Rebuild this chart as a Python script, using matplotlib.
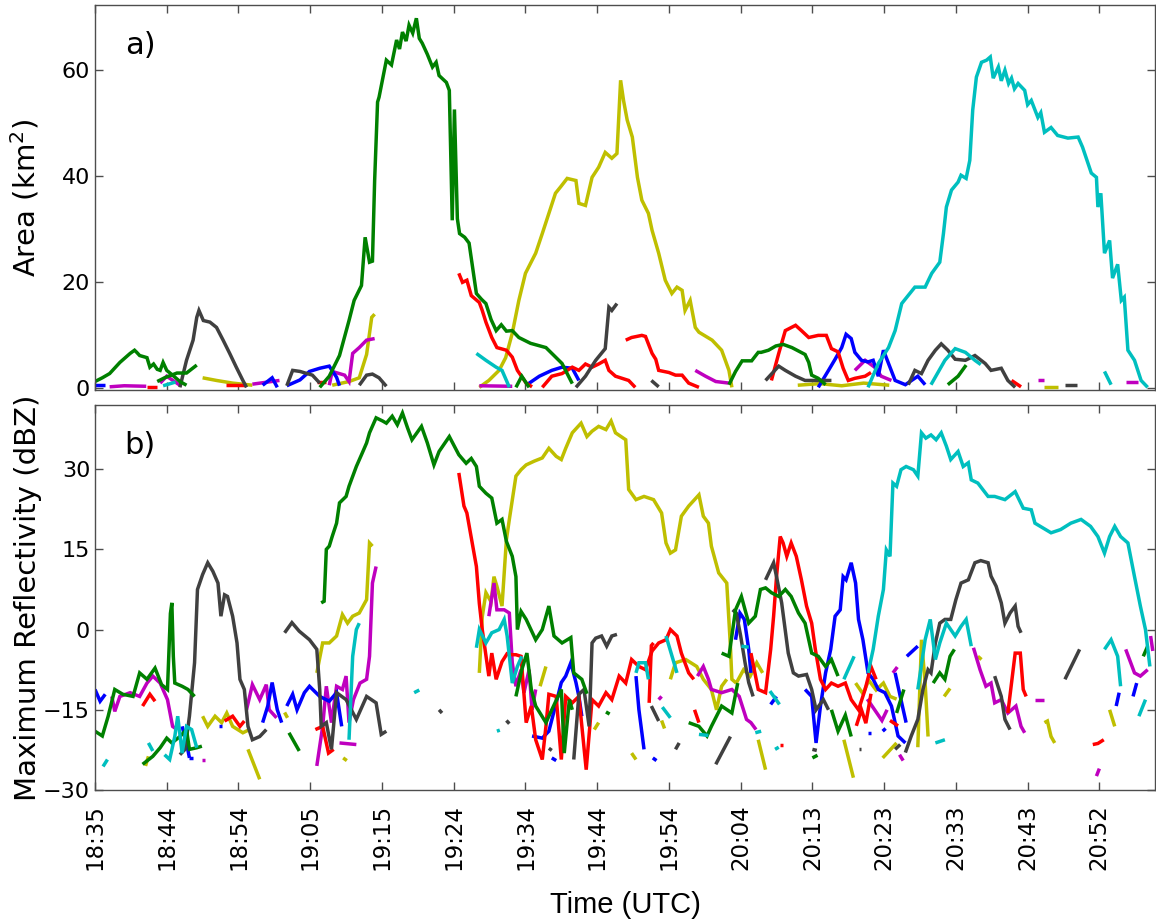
import numpy as np
import matplotlib
matplotlib.use("Agg")
import matplotlib.pyplot as plt

# ---------------------------------------------------------------
# Data: time in minutes after 18:35 UTC; each track = list of (t, value)
# ---------------------------------------------------------------
tick_step = 9.8
tick_labels = ["18:35", "18:44", "18:54", "19:05", "19:15", "19:24", "19:34", "19:44",
               "19:54", "20:04", "20:13", "20:23", "20:33", "20:43", "20:52"]

# ---------- panel a: area (km^2) ----------
a_green = [
    [(0, 1.3), (1.0, 2.0), (2.0, 2.8), (3.4, 4.9), (4.8, 6.6), (5.4, 7.2), (5.7, 6.8), (6.1, 6.2), (7.1, 5.8),
     (7.5, 4.0), (8.0, 4.6), (8.5, 3.6), (8.9, 3.4), (9.3, 4.9), (9.8, 3.4), (10.6, 2.5), (11.6, 1.3), (12.5, 0.6)],
    [(8.5, 1.3), (9.5, 2.0), (11.2, 2.9), (12.5, 2.9), (13.9, 4.4)],
    [(30.7, 0.2), (32.0, 2.3), (33.4, 6.2), (34.7, 12.8), (35.4, 16.6), (36.4, 19.4), (36.9, 28.5), (37.5, 23.8),
     (37.9, 24.0), (38.2, 39.2), (38.6, 54.0), (38.8, 54.9), (39.8, 61.9), (40.5, 61.0), (41.2, 65.7), (41.6, 64.0),
     (42.0, 67.2), (42.5, 65.5), (42.9, 68.5), (43.4, 67.0), (43.9, 69.8), (44.3, 66.0), (44.7, 65.1), (45.4, 63.0),
     (46.1, 60.6), (46.6, 61.5), (47.0, 59.0), (48.0, 57.7), (48.4, 56.2), (48.8, 31.7), (49.1, 52.6), (49.5, 32.0),
     (49.8, 29.2), (50.5, 28.5), (51.1, 27.4), (52.1, 17.9), (52.8, 16.8), (53.4, 16.0), (54.1, 13.0), (54.8, 10.9),
     (55.5, 12.0), (56.2, 10.8), (57.0, 10.9), (57.9, 9.6), (59.5, 8.5), (61.6, 7.7), (63.8, 4.7), (65.2, 0.9)],
    [(57.5, 0.2), (58.3, 2.3), (59.3, 0.2)],
    [(86.6, 0.7), (87.5, 3.2), (88.4, 5.2), (89.7, 5.2), (90.6, 6.8), (91.0, 6.8), (92.0, 7.2), (93.0, 8.0),
     (94.0, 8.3), (95.2, 7.7), (97.0, 6.4), (97.5, 4.9), (97.9, 2.5), (98.8, 1.9), (99.8, 0.7)],
    [(116.5, 0.7), (117.9, 2.3), (119.0, 4.4)],
]
a_yellow = [
    [(14.7, 2.0), (16.6, 1.5), (18.8, 1.0), (21.5, 0.6)],
    [(32.4, 0.6), (34.7, 1.3), (36.1, 2.0), (37.1, 6.4), (37.8, 13.4), (38.2, 14.0)],
    [(52.5, 0.2), (53.8, 1.5), (55.2, 3.4), (56.1, 5.8), (57.0, 10.4), (57.9, 16.6), (58.8, 21.7), (60.2, 25.5),
     (61.1, 29.2), (62.0, 33.0), (62.9, 36.8), (63.6, 38.0), (64.5, 39.6), (65.7, 39.2), (66.1, 34.9), (67.0, 34.5),
     (67.9, 39.8), (68.8, 41.7), (69.7, 44.5), (70.6, 43.4), (71.3, 44.3), (71.8, 58.1), (72.2, 54.3), (72.7, 50.6),
     (73.4, 47.4), (74.1, 39.8), (74.7, 35.5), (75.6, 33.0), (76.1, 29.8), (77.0, 25.5), (77.9, 20.4), (78.8, 17.9),
     (79.5, 19.1), (80.2, 18.5), (80.6, 14.7), (81.3, 16.6), (82.0, 11.5), (82.5, 10.6), (84.3, 9.1), (85.6, 7.2),
     (86.6, 3.4), (87.0, 0.2)],
    [(96.0, 0.6), (99.0, 0.9), (102.0, 0.5), (105.0, 1.0), (108.5, 0.6)],
    [(129.7, 0.3), (131.6, 0.3)],
]
a_gray = [
    [(11.6, 0.2), (12.5, 5.3), (13.4, 9.1), (13.9, 13.4), (14.2, 14.7), (14.8, 12.8), (15.7, 12.5), (16.6, 11.5),
     (17.5, 9.1), (18.4, 6.6), (19.3, 4.0), (20.2, 1.5), (20.7, 0.2)],
    [(26.2, 0.5), (27.0, 3.4), (28.0, 3.2), (29.7, 2.5), (30.7, 1.0)],
    [(36.1, 0.6), (37.1, 2.5), (37.9, 2.7), (38.8, 2.0), (39.8, 0.4)],
    [(65.7, 0.2), (67.0, 2.3), (68.4, 5.3), (69.7, 7.5), (70.2, 15.3), (70.6, 14.7), (71.3, 16.0)],
    [(76.0, 1.5), (77.0, 0.3)],
    [(91.6, 1.5), (93.4, 4.2), (94.3, 3.4), (95.7, 2.3), (97.0, 1.5), (98.8, 1.5), (100.6, 1.5)],
    [(111.1, 0.7), (112.0, 3.4), (112.9, 2.8), (113.8, 5.3), (114.8, 7.2), (115.6, 8.4), (116.5, 7.2), (117.5, 5.5),
     (118.9, 5.3), (120.2, 6.2), (121.6, 4.7), (122.4, 3.4), (123.8, 3.8), (124.7, 1.5), (125.7, 0.2)],
    [(132.5, 0.7), (134.2, 0.7)],
]
a_red = [
    [(7.1, 0.3), (8.5, 0.3)],
    [(17.9, 0.6), (20.6, 0.6)],
    [(30.3, 1.3), (31.6, 1.3)],
    [(49.7, 21.7), (50.2, 20.0), (50.8, 20.4), (51.4, 17.5), (52.5, 16.2), (52.9, 14.7), (53.4, 12.5), (54.2, 9.6),
     (54.9, 7.7), (56.2, 7.2), (57.0, 5.9), (57.7, 3.4), (58.9, 1.0), (59.7, 0.3)],
    [(61.1, 0.2), (62.4, 2.3), (63.8, 2.8), (65.2, 4.0), (66.1, 3.4), (67.0, 4.6), (67.9, 4.0), (68.8, 4.6),
     (69.7, 5.3), (70.2, 3.4), (71.1, 2.3), (72.9, 1.5), (73.8, 0.2)],
    [(72.5, 9.1), (73.3, 9.6), (74.7, 10.0), (75.2, 9.8), (76.1, 6.6), (76.6, 5.5), (77.0, 3.4), (78.4, 3.0),
     (79.3, 2.5), (80.2, 2.5), (81.1, 1.0), (82.5, 0.2)],
    [(92.4, 1.5), (93.4, 6.6), (94.3, 10.9), (95.7, 11.9), (96.5, 10.9), (97.5, 9.6), (98.8, 10.0), (99.9, 10.0),
     (100.6, 7.5), (101.5, 6.9), (102.2, 3.8), (102.9, 1.5), (103.8, 1.9), (105.2, 2.3), (106.0, 3.0)],
    [(125.2, 1.5), (126.5, 0.3)],
]
a_blue = [
    [(0, 0.7), (1.4, 0.7)],
    [(22.9, 0.6), (24.2, 2.0), (24.9, 0.2)],
    [(26.2, 0.5), (28.0, 1.6), (29.3, 3.2), (30.7, 3.8), (32.0, 4.2), (33.0, 2.1), (33.4, 0.5)],
    [(58.9, 0.6), (60.7, 2.3), (62.4, 3.4), (63.8, 4.0), (65.2, 3.8), (66.1, 1.5)],
    [(98.8, 0.2), (100.2, 3.4), (101.1, 5.5), (102.0, 7.7), (102.6, 10.2), (103.3, 9.4), (103.8, 6.8),
     (104.7, 5.3), (105.6, 5.0), (106.3, 5.3), (107.0, 2.3), (107.7, 7.2), (108.4, 4.7), (109.3, 1.5),
     (110.7, 0.7), (112.4, 2.3), (113.4, 0.7)],
]
a_cyan = [
    [(9.3, 0.5), (11.0, 1.2)],
    [(52.1, 6.6), (53.4, 5.3), (54.8, 4.0), (55.6, 3.4), (56.2, 1.5), (56.6, 0.2)],
    [(105.6, 0.2), (107.0, 4.7), (108.4, 7.7), (109.3, 10.9), (110.2, 16.0), (112.0, 19.1), (113.4, 19.1),
     (114.3, 21.7), (115.4, 23.8), (115.9, 29.2), (116.3, 34.2), (117.0, 37.4), (117.9, 38.9), (118.3, 40.2),
     (119.0, 39.6), (119.5, 43.0), (119.9, 52.5), (120.4, 58.7), (121.1, 61.5), (121.8, 61.9), (122.3, 62.5),
     (122.7, 58.5), (123.4, 60.6), (123.8, 58.0), (124.3, 60.0), (124.8, 57.5), (125.2, 58.5), (125.6, 56.5),
     (126.1, 57.5), (127.0, 56.2), (127.4, 53.5), (127.9, 54.3), (128.8, 51.1), (129.2, 52.0), (129.7, 48.3),
     (130.6, 49.2), (131.5, 47.7), (132.9, 47.2), (134.3, 47.4), (134.9, 45.5), (136.1, 40.6), (136.8, 39.8),
     (137.0, 34.2), (137.4, 36.8), (137.9, 25.5), (138.6, 27.9), (139.0, 20.8), (139.7, 23.4), (140.2, 16.6),
     (140.6, 17.2), (141.1, 7.2), (142.0, 5.3), (142.9, 1.5), (143.8, 0.2)],
    [(114.2, 0.7), (116.1, 5.3), (117.5, 7.5), (118.9, 6.8), (120.2, 5.3), (121.0, 4.5)],
    [(137.9, 3.2), (138.8, 0.7)],
]
a_magenta = [
    [(2.0, 0.3), (4.0, 0.5), (7.0, 0.4)],
    [(8.9, 1.0), (9.8, 2.3), (11.6, 0.6)],
    [(21.5, 0.8), (25.2, 1.5)],
    [(32.0, 0.6), (32.4, 3.2), (34.1, 2.5), (34.7, 1.3), (35.2, 6.6), (36.1, 7.7), (37.1, 9.1), (38.2, 9.4)],
    [(52.5, 0.5), (57.0, 0.4)],
    [(82.0, 3.4), (83.4, 2.3), (84.8, 1.3), (86.6, 1.0)],
    [(103.8, 3.4), (105.2, 5.3), (106.5, 4.0), (107.4, 2.3), (108.8, 1.5)],
    [(128.8, 1.5), (129.7, 1.5)],
    [(140.8, 1.3), (142.5, 1.3)],
]

# ---------- panel b: maximum reflectivity (dBZ) ----------
b_green = [
    [(0, -19.0), (1.0, -19.9), (1.8, -16.2), (2.7, -11.2), (3.8, -12.1), (5.2, -12.5), (6.1, -8.1), (7.1, -9.3),
     (8.2, -7.2), (9.1, -10.3), (9.9, -11.2), (10.3, 3.0), (10.5, 5.0), (10.7, -5.0), (10.9, -10.0), (11.9, -10.6),
     (12.7, -11.2), (13.6, -12.5)],
    [(6.5, -25.2), (7.9, -23.7), (8.9, -22.1), (9.8, -20.3), (10.5, -21.2), (11.6, -20.0), (12.5, -18.7),
     (12.9, -22.4), (13.9, -22.1), (14.6, -21.8)],
    [(26.5, -19.3), (27.9, -22.7)],
    [(30.9, 5.0), (31.3, 5.3), (31.6, 15.0), (32.0, 15.6), (32.4, 17.4), (33.0, 19.9), (33.4, 23.7), (34.3, 24.9),
     (34.7, 26.8), (35.7, 30.5), (36.5, 33.0), (37.1, 34.9), (37.5, 36.8), (38.4, 39.6), (39.3, 39.0), (39.8, 38.6),
     (40.6, 39.9), (41.3, 38.3), (42.0, 40.5), (42.7, 37.7), (43.3, 35.5), (44.6, 38.0), (45.4, 34.9), (46.3, 30.8),
     (47.0, 33.3), (48.4, 36.1), (49.7, 32.7), (50.7, 31.1), (51.4, 32.0), (52.1, 30.5), (52.5, 26.8), (53.4, 25.5),
     (54.2, 24.6), (54.9, 19.9), (55.6, 20.6), (56.2, 16.5), (57.0, 13.7), (57.5, 9.9), (57.7, 0.0), (58.2, 3.4),
     (58.9, 1.9), (60.2, -1.9), (61.1, 0.0), (62.0, 4.4), (62.7, -1.2), (63.8, -2.5), (65.0, -1.5), (65.4, -8.1),
     (66.5, -9.3), (67.2, -12.0)],
    [(57.5, -12.5), (58.3, -7.5), (59.0, -4.4), (59.6, -11.2), (60.2, -14.3), (61.6, -17.4), (62.4, -15.0),
     (63.7, -11.2), (64.1, -23.1), (64.8, -13.1), (65.2, -15.0)],
    [(69.8, -15.4), (70.3, -15.8)],
    [(81.1, -17.4), (82.5, -18.1), (83.6, -19.9), (84.2, -18.1), (85.6, -14.3), (87.0, -15.6), (87.8, -10.0)],
    [(85.6, -4.4), (86.6, -5.0), (87.5, 3.7), (88.3, 6.2), (89.3, 1.2), (90.2, 2.5), (90.9, 7.5), (91.6, 7.8),
     (92.4, 6.9), (93.4, 6.2), (94.3, 7.5), (95.1, 6.2), (96.1, 3.1), (97.0, 1.2), (97.9, -4.4), (98.8, -5.0),
     (99.8, -6.9), (100.6, -5.6), (101.5, -8.7)],
    [(100.6, -15.0), (101.5, -19.0), (102.5, -16.0), (103.3, -20.0)],
    [(98.0, -24.0), (98.7, -23.5)],
    [(109.5, -15.6), (110.5, -11.2)],
    [(114.5, -10.0), (115.4, -8.1), (116.1, -9.3), (116.8, -5.0), (117.4, -3.7)],
    [(143.2, -5.0), (143.8, -3.1)],
]
b_yellow = [
    [(14.7, -16.2), (15.4, -18.1), (16.4, -16.2), (17.3, -17.4), (18.0, -15.6), (18.8, -18.1), (20.2, -19.3),
     (21.1, -18.7)],
    [(6.9, -25.5), (7.3, -23.7)],
    [(20.9, -22.4), (22.5, -28.0)],
    [(25.9, -15.5), (26.3, -16.5)],
    [(33.9, -24.0), (34.4, -24.5)],
    [(30.3, -8.1), (31.1, -2.5), (32.0, -2.5), (33.0, -1.2), (33.8, 2.8), (34.5, 1.2), (35.2, 2.5), (36.1, 3.1),
     (37.1, 5.6), (37.5, 16.2), (37.9, 15.6)],
    [(52.5, -8.1), (52.9, 2.4), (53.4, 6.9), (54.1, 5.2), (54.5, 9.9), (54.9, 8.1), (55.6, 4.4), (56.2, 16.8),
     (56.6, 20.6), (57.5, 28.7), (58.2, 29.9), (58.9, 30.8), (60.0, 31.5), (61.1, 32.1), (62.0, 33.9), (63.0, 32.4),
     (63.7, 31.8), (64.3, 33.9), (65.2, 36.8), (66.4, 38.6), (67.2, 36.1), (67.9, 37.1), (68.8, 38.0), (69.8, 37.4),
     (70.5, 39.0), (71.1, 36.8), (72.5, 35.5), (72.9, 26.2), (73.9, 24.3), (75.0, 24.9), (76.3, 24.3), (77.4, 21.8),
     (78.0, 16.2), (78.6, 14.3), (79.3, 14.9), (80.1, 21.2), (81.1, 23.1), (82.5, 25.2), (83.1, 21.2), (83.8, 19.9),
     (84.2, 15.6), (85.2, 10.6), (86.3, 8.7), (86.8, -3.1), (87.0, -9.3), (87.6, -10.0)],
    [(60.8, -10.6), (61.6, -6.9)],
    [(68.2, -18.7), (68.8, -17.4)],
    [(73.3, -23.1), (73.9, -24.3)],
    [(77.4, -17.0), (77.8, -18.5)],
    [(78.6, -9.3), (79.3, -6.2), (80.7, -5.6), (82.2, -6.9), (83.1, -9.3), (84.2, -11.2), (84.9, -15.0),
     (85.6, -10.6), (86.3, -9.3)],
    [(87.6, -10.0), (88.6, -7.5), (89.5, -8.7), (90.4, -6.2), (91.2, -8.1)],
    [(90.6, -20.6), (91.6, -26.2)],
    [(102.3, -20.6), (103.6, -27.7)],
    [(103.9, -10.0), (104.9, -12.0), (105.7, -9.5), (106.7, -11.3), (107.7, -10.0), (108.6, -12.5), (109.5, -13.0)],
    [(107.6, -24.0), (109.5, -21.2)],
    [(112.4, -22.0), (112.9, -1.9), (113.4, -10.0), (113.8, -20.0)],
    [(116.0, -12.5), (116.8, -11.0)],
    [(120.6, -5.0), (121.1, -5.6)],
    [(129.7, -17.4), (130.1, -17.1), (130.6, -20.0), (131.1, -21.2)],
    [(138.6, -15.0), (139.3, -18.1)],
]
b_gray = [
    [(11.6, -23.4), (12.3, -22.4), (12.9, -16.2), (13.6, -6.2), (14.0, 7.5), (14.7, 10.3), (15.4, 12.5),
     (16.1, 10.9), (16.8, 8.7), (17.2, 2.5), (17.7, 6.5), (18.1, 6.2), (18.8, 2.5), (19.4, -2.5), (19.8, -9.3),
     (20.4, -11.2), (20.9, -18.1), (21.5, -20.6), (22.5, -20.0), (23.4, -18.7)],
    [(25.9, -0.6), (26.9, 1.3), (27.9, -0.3), (29.3, -1.9), (30.3, -3.7), (30.7, -11.2), (30.9, -18.1),
     (31.6, -17.4), (32.3, -22.4), (33.0, -11.8), (34.3, -13.1), (35.7, -16.8), (37.1, -12.5), (38.4, -13.7),
     (39.1, -19.6), (39.8, -19.0)],
    [(47.0, -15.0), (47.4, -15.6)],
    [(56.2, -17.0), (56.6, -17.6)],
    [(62.0, -22.2), (62.4, -22.6)],
    [(65.4, -24.3), (66.1, -12.1), (66.8, -11.2), (67.5, -18.1), (67.9, -2.5), (68.4, -1.6), (69.2, -1.2),
     (69.9, -3.1), (70.6, -1.2), (71.3, -0.9)],
    [(76.0, -14.3), (77.0, -17.1)],
    [(79.3, -22.4), (79.8, -21.2)],
    [(84.8, -25.2), (86.8, -20.0)],
    [(87.1, 3.7), (87.6, 3.1), (88.2, -1.2), (88.8, -6.2), (89.3, -9.9), (89.9, -12.5)],
    [(91.6, 9.3), (92.7, 12.5), (93.1, 9.9), (93.8, 5.0), (94.7, -4.4), (95.4, -8.1), (96.1, -8.7), (97.2, -8.4),
     (97.9, -11.2), (98.5, -15.0), (99.5, -13.1), (100.2, -15.0)],
    [(98.0, -22.4), (98.6, -22.6)],
    [(104.3, -22.4), (104.7, -22.4)],
    [(109.3, -22.4), (110.0, -21.5)],
    [(110.7, -23.0), (111.5, -19.9), (112.4, -16.8), (113.1, -11.2), (113.8, -7.5), (114.2, -8.1), (114.8, -2.5),
     (115.4, 1.2), (116.1, 1.9), (116.9, 1.9), (117.6, 5.6), (118.3, 8.7), (119.3, 9.3), (120.2, 12.5),
     (121.0, 12.9), (122.0, 12.5), (122.4, 10.0), (123.1, 8.1), (123.8, 5.0), (124.3, 1.2), (125.0, 3.1),
     (125.7, 4.4), (126.1, 0.6), (126.5, -0.6)],
    [(122.9, -8.7), (123.8, -12.5), (124.3, -16.8), (125.0, -18.7)],
    [(132.5, -9.3), (134.5, -3.7)],
]
b_red = [
    [(6.5, -14.3), (7.5, -12.1), (8.2, -13.4)],
    [(17.7, -17.1), (18.8, -16.2), (19.8, -18.1), (20.4, -17.1)],
    [(30.1, -18.7), (31.1, -18.1), (31.9, -23.1), (32.6, -22.4)],
    [(49.7, 29.3), (50.4, 23.1), (50.8, 21.8), (52.1, 11.8), (52.5, 4.9), (52.9, 0.0), (53.8, -8.7), (54.2, -4.4),
     (54.8, -9.3), (55.6, -6.0), (56.3, -4.5), (57.0, -4.7), (57.5, -4.7), (58.2, -5.0), (58.9, -17.4),
     (59.6, -14.3), (60.2, -20.6), (61.1, -24.3), (61.6, -18.1), (62.0, -12.1), (63.0, -12.5), (63.7, -24.3),
     (64.3, -12.5), (65.2, -13.7), (66.1, -12.5), (67.1, -26.2), (67.9, -13.1), (68.8, -14.3), (69.8, -11.8),
     (70.6, -13.1), (71.6, -8.7), (72.5, -10.0), (73.3, -5.6), (74.3, -6.9), (75.2, -7.5), (76.1, -4.0),
     (77.0, -2.5), (78.0, -1.9), (78.6, 0.0), (79.5, -1.2), (80.1, -4.4), (81.1, -8.1), (81.8, -9.3)],
    [(75.7, -13.7), (76.0, -3.0), (76.3, -2.5)],
    [(81.9, -15.0), (82.5, -17.4)],
    [(89.6, -4.4), (90.6, -11.2), (91.6, -11.8), (92.3, -3.7), (92.7, 2.5), (93.1, 9.9), (93.6, 17.4),
     (94.0, 16.2), (94.5, 13.7), (95.1, 16.2), (95.8, 13.7), (96.5, 9.3), (97.2, 4.4), (97.9, 1.2), (98.4, -3.7),
     (99.1, -9.3), (99.8, -11.2), (100.6, -10.0), (101.5, -10.6), (102.5, -10.0), (103.3, -13.1), (104.3, -15.0),
     (105.2, -11.2), (106.0, -6.9), (106.7, -9.3)],
    [(93.6, -21.5), (94.0, -21.5)],
    [(104.0, -18.0), (104.7, -15.0), (105.3, -17.5), (106.0, -12.0)],
    [(108.6, -17.0), (109.7, -18.0)],
    [(124.7, -15.6), (125.7, -4.4), (126.4, -4.4), (126.8, -11.2), (127.2, -12.5)],
    [(136.3, -21.5), (137.0, -21.3), (137.8, -20.6)],
]
b_blue = [
    [(0, -11.2), (0.7, -13.4), (1.4, -12.1)],
    [(11.9, -18.1), (12.5, -21.2), (12.9, -24.0)],
    [(12.8, -24.0), (13.4, -24.0)],
    [(17.0, -18.1), (17.4, -18.1)],
    [(22.9, -17.4), (23.6, -14.3), (24.2, -9.9), (24.9, -15.0), (25.5, -17.4)],
    [(26.2, -14.3), (27.0, -12.1), (27.6, -15.0), (28.6, -11.8), (29.3, -10.6), (30.7, -12.5), (32.0, -13.4),
     (33.0, -11.8), (33.7, -18.1)],
    [(59.7, -19.9), (61.1, -20.3), (62.0, -19.0), (63.0, -13.7), (63.7, -9.9), (64.3, -8.7), (65.0, -6.2),
     (65.7, -9.9), (66.1, -12.5), (66.5, -16.2)],
    [(62.4, -24.0), (63.0, -24.5)],
    [(76.2, -24.0), (76.7, -24.5)],
    [(73.9, -8.7), (74.3, -15.0), (75.0, -22.4)],
    [(87.5, -1.9), (88.1, 3.1), (88.7, 1.9), (89.3, -3.7), (89.6, -8.1)],
    [(92.3, -14.0), (93.1, -12.5)],
    [(97.0, -11.2), (97.9, -12.5), (98.5, -21.2), (99.1, -14.3), (99.8, -8.1), (100.5, -3.7), (101.1, 2.5),
     (101.8, 3.7), (102.2, 9.9), (102.6, 9.3), (103.3, 12.5), (103.9, 8.7), (104.3, 1.9), (104.9, -1.9),
     (105.6, -8.1), (106.3, -9.3), (107.0, -11.2), (107.9, -11.8), (108.8, -14.3), (109.7, -19.9), (110.7, -21.2)],
    [(105.6, -19.3), (106.0, -19.3)],
    [(107.6, -19.0), (108.0, -18.5)],
    [(109.3, -8.1), (110.0, -12.5), (110.8, -17.4)],
    [(110.9, -5.0), (112.4, -3.1)],
    [(139.5, -14.3), (139.9, -11.8)],
    [(141.8, -12.5), (142.3, -10.0)],
]
b_cyan = [
    [(1.1, -25.6), (1.7, -24.3)],
    [(7.3, -21.2), (7.9, -22.7)],
    [(9.5, -23.4), (10.2, -24.3), (10.9, -20.0), (11.3, -16.2), (11.9, -23.1), (12.5, -18.1), (13.2, -18.7),
     (13.9, -22.1)],
    [(34.7, -20.6), (35.2, -5.0), (35.7, 0.0), (36.1, 1.2)],
    [(43.6, -11.8), (44.3, -11.3)],
    [(54.9, -19.0), (55.3, -18.8)],
    [(52.1, -3.4), (52.5, 0.0), (53.4, -2.5), (54.2, -0.6), (55.2, 0.0), (55.9, 1.9), (56.3, -1.2), (57.0, -10.0),
     (57.7, -6.9), (58.3, -5.0)],
    [(73.9, -8.1), (74.3, -6.2), (75.2, -6.2), (75.6, -9.3)],
    [(78.0, -1.2), (78.7, -4.4), (79.5, -8.1)],
    [(77.5, -14.5), (78.6, -16.5)],
    [(82.5, -19.6), (83.8, -19.8)],
    [(88.3, -3.1), (89.3, -3.3)],
    [(90.2, -19.3), (91.0, -19.0)],
    [(92.2, -11.5), (93.5, -14.0)],
    [(92.9, -22.4), (93.4, -22.0)],
    [(102.3, -9.3), (103.7, -5.0)],
    [(105.6, -8.1), (106.3, -3.7), (107.0, 2.5), (107.7, 7.5), (108.1, 14.9), (108.6, 13.7), (109.0, 27.4),
     (109.5, 26.8), (110.1, 29.9), (110.8, 30.5), (111.8, 29.9), (112.4, 28.7), (112.9, 36.8), (113.5, 35.8),
     (114.2, 36.4), (114.9, 35.5), (115.6, 36.8), (116.3, 34.3), (116.9, 31.8), (117.9, 33.3), (118.6, 30.5),
     (119.3, 31.2), (119.7, 28.0), (120.6, 27.4), (122.0, 24.9), (122.9, 24.9), (124.3, 24.3), (125.7, 25.8),
     (126.8, 22.7), (127.9, 22.4), (128.4, 19.9), (130.6, 18.1), (131.9, 18.7), (133.3, 19.9), (134.7, 20.6),
     (136.0, 19.3), (137.0, 17.4), (137.9, 14.3), (138.6, 17.4), (139.3, 19.3), (140.1, 17.4), (141.1, 16.2),
     (142.0, 9.9), (142.8, 4.4), (143.5, 0.0), (144.1, -6.9)],
    [(112.4, -11.2), (113.4, -1.9), (114.1, 1.9), (114.8, -5.6), (115.4, -2.5), (116.3, 1.2), (117.5, -1.2),
     (118.3, 0.6), (119.0, 1.9), (119.7, -3.1)],
    [(114.8, -21.2), (116.1, -20.6)],
    [(137.9, -3.7), (138.8, -1.9), (139.7, -5.0), (140.1, -10.6)],
    [(142.6, -16.2), (143.5, -13.1)],
]
b_magenta = [
    [(2.3, -12.5), (2.7, -15.3), (3.4, -12.5), (4.8, -11.8), (6.1, -12.5), (7.1, -10.0), (7.9, -8.7), (8.9, -10.0),
     (9.9, -13.1), (10.6, -18.1), (11.2, -18.7)],
    [(14.6, -24.3), (15.0, -24.3)],
    [(20.7, -15.0), (21.5, -10.3), (22.5, -13.1), (23.4, -10.3), (23.8, -15.0), (24.8, -16.5)],
    [(30.3, -25.5), (31.1, -18.1), (31.6, -10.6), (32.3, -17.4), (33.0, -10.6), (33.8, -11.2), (34.3, -8.7),
     (34.7, -17.4), (35.3, -13.1), (36.2, -10.0), (37.1, -9.3), (37.5, -5.0), (37.9, 8.7), (38.4, 11.8)],
    [(33.4, -21.2), (35.7, -21.5)],
    [(53.8, 2.5), (54.5, 8.7), (54.9, 3.7), (55.9, 3.7), (56.6, 3.1), (57.0, -6.2), (57.5, -10.6), (58.2, -7.5),
     (58.6, -11.8), (59.3, -7.5), (59.7, -15.0), (60.2, -11.2)],
    [(77.0, -13.1), (77.4, -12.5)],
    [(82.3, -8.7), (83.1, -6.9), (83.8, -9.3), (84.2, -11.2), (85.6, -11.8), (87.0, -11.2), (88.0, -12.5),
     (89.0, -16.8), (89.6, -17.4), (90.3, -18.7)],
    [(105.5, -13.0), (106.5, -15.0), (107.5, -17.0), (108.2, -15.0)],
    [(109.0, -8.1), (109.6, -7.0)],
    [(109.9, -23.4), (110.4, -24.5)],
    [(120.0, -3.4), (120.9, -7.5), (121.7, -10.6), (122.4, -10.0), (122.9, -13.7), (123.8, -13.1), (124.7, -15.6),
     (125.8, -14.3), (126.5, -18.1), (127.0, -19.3)],
    [(128.4, -13.1), (129.7, -13.1)],
    [(136.8, -27.4), (137.2, -26.0)],
    [(140.8, -3.7), (142.0, -8.1), (142.8, -8.7), (143.8, -7.5)],
    [(144.2, -1.2), (144.5, -4.0)],
]

# ---------------------------------------------------------------
colors = {
    "yellow": (0.75, 0.75, 0.0),
    "magenta": (0.75, 0.0, 0.75),
    "blue": (0.0, 0.0, 1.0),
    "red": (1.0, 0.0, 0.0),
    "gray": (0.25, 0.25, 0.25),
    "green": (0.0, 0.5, 0.0),
    "cyan": (0.0, 0.75, 0.75),
}
panel_a = [("yellow", a_yellow), ("magenta", a_magenta), ("blue", a_blue), ("red", a_red),
           ("gray", a_gray), ("green", a_green), ("cyan", a_cyan)]
panel_b = [("yellow", b_yellow), ("magenta", b_magenta), ("blue", b_blue), ("red", b_red),
           ("gray", b_gray), ("green", b_green), ("cyan", b_cyan)]

W, H = 1156, 923
fig = plt.figure(figsize=(W / 100, H / 100), dpi=100)
ax_a = fig.add_axes([95 / W, 1 - 390 / H, 1060 / W, 385 / H])
ax_b = fig.add_axes([95 / W, 1 - 790 / H, 1060 / W, 385 / H])

xmax = 144.8
spine_c = (0.3, 0.3, 0.3)

for ax, panel in ((ax_a, panel_a), (ax_b, panel_b)):
    for cname, tracks in panel:
        for tr in tracks:
            arr = np.array(tr, dtype=float)
            ax.plot(arr[:, 0], arr[:, 1], color=colors[cname], lw=2.5, solid_capstyle="butt",
                    solid_joinstyle="miter")
    ax.set_xlim(0, xmax)
    ax.set_xticks(np.arange(len(tick_labels)) * tick_step)
    ax.tick_params(direction="in", length=6, width=1, top=True, right=True, color=spine_c,
                   labelsize=16)
    for s in ax.spines.values():
        s.set_color(spine_c)
        s.set_linewidth(1.0)

ax_a.set_ylim(-0.3, 72.3)
ax_a.set_yticks([0, 20, 40, 60])
ax_a.set_xticklabels([])
ax_a.set_ylabel("Area (km$^2$)", fontsize=21)
ax_a.yaxis.set_label_coords(-0.05, 0.5)
ax_a.text(0.028, 0.895, "a)", transform=ax_a.transAxes, fontsize=22, va="center", ha="left")

ax_b.set_ylim(-30, 42)
ax_b.set_yticks([-30, -15, 0, 15, 30])
ax_b.set_xticklabels(tick_labels, rotation=90, fontsize=16.5)
ax_b.tick_params(axis="x", pad=10)
ax_b.set_ylabel("Maximum Reflectivity (dBZ)", fontsize=21)
ax_b.yaxis.set_label_coords(-0.05, 0.5)
ax_b.text(0.028, 0.895, "b)", transform=ax_b.transAxes, fontsize=22, va="center", ha="left")

fig.text(625 / W, 1 - 905 / H, "Time (UTC)", fontsize=21, ha="center", va="center",
         family=["Liberation Sans", "DejaVu Sans"])

fig.savefig("out.png", dpi=100)
